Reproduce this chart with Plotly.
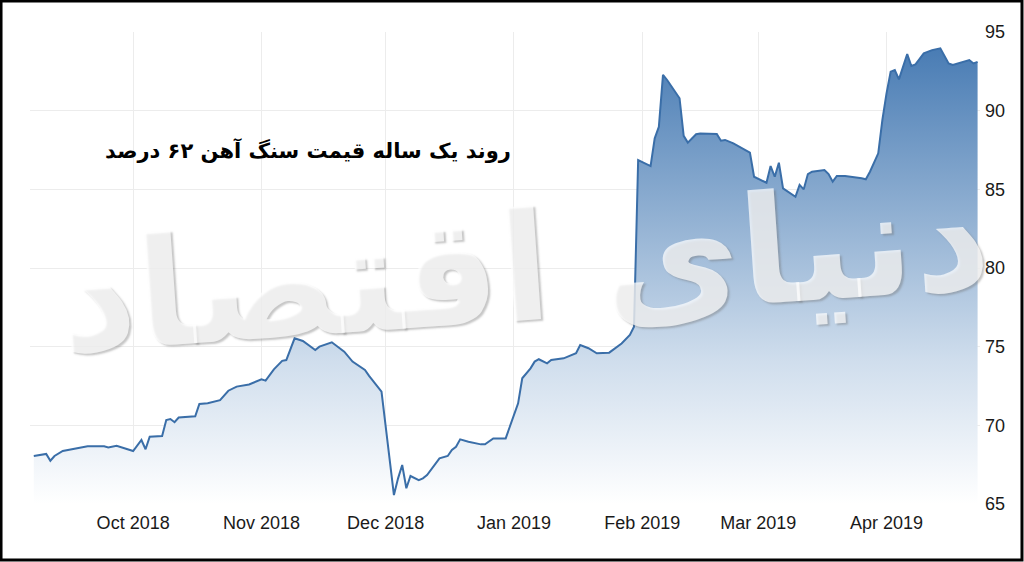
import plotly.graph_objects as go

dates = [
    "2018-09-07", "2018-09-10", "2018-09-11", "2018-09-12", "2018-09-14", "2018-09-18",
    "2018-09-20", "2018-09-24", "2018-09-25", "2018-09-27", "2018-10-01", "2018-10-03",
    "2018-10-04", "2018-10-05", "2018-10-08", "2018-10-09", "2018-10-10", "2018-10-11",
    "2018-10-12", "2018-10-16", "2018-10-17", "2018-10-19", "2018-10-22", "2018-10-24",
    "2018-10-26", "2018-10-29", "2018-11-01", "2018-11-02", "2018-11-04", "2018-11-06",
    "2018-11-07", "2018-11-09", "2018-11-11", "2018-11-14", "2018-11-15", "2018-11-18",
    "2018-11-20", "2018-11-21", "2018-11-23", "2018-11-26", "2018-11-27", "2018-11-29",
    "2018-11-30", "2018-12-03", "2018-12-04", "2018-12-05", "2018-12-06", "2018-12-07",
    "2018-12-09", "2018-12-10", "2018-12-11", "2018-12-14", "2018-12-16", "2018-12-17",
    "2018-12-18", "2018-12-19", "2018-12-21", "2018-12-24", "2018-12-25", "2018-12-27",
    "2018-12-30", "2019-01-02", "2019-01-03", "2019-01-05", "2019-01-06", "2019-01-07",
    "2019-01-09", "2019-01-10", "2019-01-13", "2019-01-16", "2019-01-17", "2019-01-19",
    "2019-01-21", "2019-01-24", "2019-01-27", "2019-01-29", "2019-01-30", "2019-01-31",
    "2019-02-03", "2019-02-04", "2019-02-05", "2019-02-06", "2019-02-07", "2019-02-10",
    "2019-02-11", "2019-02-12", "2019-02-14", "2019-02-15", "2019-02-19", "2019-02-20",
    "2019-02-21", "2019-02-23", "2019-02-27", "2019-02-28", "2019-03-03", "2019-03-04",
    "2019-03-05", "2019-03-06", "2019-03-07", "2019-03-10", "2019-03-11", "2019-03-12",
    "2019-03-13", "2019-03-14", "2019-03-17", "2019-03-18", "2019-03-19", "2019-03-20",
    "2019-03-22", "2019-03-26", "2019-03-27", "2019-03-28", "2019-03-30", "2019-03-31",
    "2019-04-01", "2019-04-02", "2019-04-03", "2019-04-04", "2019-04-05", "2019-04-06",
    "2019-04-07", "2019-04-08", "2019-04-10", "2019-04-12", "2019-04-14", "2019-04-16",
    "2019-04-17", "2019-04-21", "2019-04-22", "2019-04-23",
]
prices = [
    68.05, 68.18, 67.75, 68.05, 68.37, 68.58,
    68.67, 68.67, 68.60, 68.70, 68.37, 69.07,
    68.48, 69.28, 69.32, 70.34, 70.40, 70.20,
    70.50, 70.57, 71.36, 71.40, 71.60, 72.20,
    72.46, 72.60, 72.92, 72.84, 73.56, 74.10,
    74.15, 75.53, 75.36, 74.79, 75.00, 75.28,
    74.90, 74.68, 74.05, 73.52, 73.14, 72.50,
    72.14, 65.57, 66.63, 67.48, 66.00, 66.78,
    66.52, 66.63, 66.84, 67.90, 68.05, 68.43,
    68.64, 69.11, 68.96, 68.79, 68.79, 69.17,
    69.17, 71.40, 72.99, 73.62, 74.05, 74.20,
    73.94, 74.15, 74.26, 74.58, 75.10, 74.90,
    74.58, 74.62, 75.20, 75.74, 76.27, 86.86,
    86.48, 88.24, 88.98, 92.27, 91.95, 90.79,
    88.40, 87.97, 88.50, 88.55, 88.52, 88.09,
    88.14, 87.92, 87.33, 85.80, 85.42, 86.48,
    85.80, 86.69, 85.06, 84.53, 85.28, 85.00,
    85.97, 86.12, 86.23, 85.97, 85.49, 85.85,
    85.85, 85.70, 85.64, 86.12, 87.29, 89.41,
    91.10, 92.48, 92.58, 91.99, 92.80, 93.60,
    92.84, 92.94, 93.64, 93.85, 93.96, 93.00,
    92.90, 93.22, 93.00, 93.10,
]

x_ticks = ["2018-10-01", "2018-11-01", "2018-12-01", "2019-01-01",
           "2019-02-01", "2019-03-01", "2019-04-01"]
x_tick_labels = ["Oct 2018", "Nov 2018", "Dec 2018", "Jan 2019",
                 "Feb 2019", "Mar 2019", "Apr 2019"]
y_ticks = [65, 70, 75, 80, 85, 90, 95]

title_text = "روند یک ساله قیمت سنگ آهن ۶۲ درصد"
watermark_text = "دنیای اقتصاد"

fig = go.Figure()
fig.add_trace(go.Scatter(
    x=dates, y=prices, mode="lines",
    line=dict(color="#3a6ea8", width=2),
    fill="tozeroy",
    fillgradient=dict(type="vertical", start=65, stop=95,
                      colorscale=[[0, "rgba(255,255,255,1)"],
                                  [0.3, "#d0deed"],
                                  [1, "#4277b1"]]),
    hoverinfo="skip",
))

tick_font = dict(family="Liberation Sans Narrow, Liberation Sans, Arial", size=18, color="#1a1a1a")

fig.update_layout(
    width=1024, height=562,
    margin=dict(l=30, r=44, t=32, b=58),
    paper_bgcolor="white", plot_bgcolor="white",
    showlegend=False,
    xaxis=dict(
        type="date",
        range=["2018-09-06 02:00", "2019-04-23 14:00"],
        tickvals=x_ticks, ticktext=x_tick_labels,
        showgrid=True, gridcolor="#ececec", gridwidth=1,
        zeroline=False, showline=False, ticks="",
        tickfont=tick_font, ticklabelstandoff=6,
    ),
    yaxis=dict(
        side="right", range=[65, 95],
        tickvals=y_ticks, ticktext=[str(v) for v in y_ticks],
        showgrid=True, gridcolor="#ececec", gridwidth=1,
        zeroline=False, showline=False, ticks="",
        tickfont=tick_font, ticklabelstandoff=4,
    ),
    annotations=[
        dict(text=watermark_text, xref="paper", yref="paper",
             x=0.52, y=0.50, xanchor="center", yanchor="middle",
             showarrow=False, textangle=-4,
             font=dict(family="DejaVu Sans", size=150, weight="bold",
                       color="rgba(255,255,255,0.72)",
                       shadow="2px 2px 2px rgba(110,110,110,0.55)")),
        dict(text="<b>" + title_text + "</b>", xref="paper", yref="paper",
             x=0.293, y=0.75, xanchor="center", yanchor="middle",
             showarrow=False,
             font=dict(family="DejaVu Sans", size=21, color="black")),
    ],
    shapes=[
        dict(type="rect", xref="paper", yref="paper",
             x0=-0.0305, x1=1.0442, y0=-0.1186, y1=1.0657,
             line=dict(color="black", width=3), fillcolor="rgba(0,0,0,0)"),
    ],
)

fig.write_html("out.html",
               config={"displayModeBar": False},
               post_script="document.body.style.margin='0px';document.body.style.overflow='hidden';")
